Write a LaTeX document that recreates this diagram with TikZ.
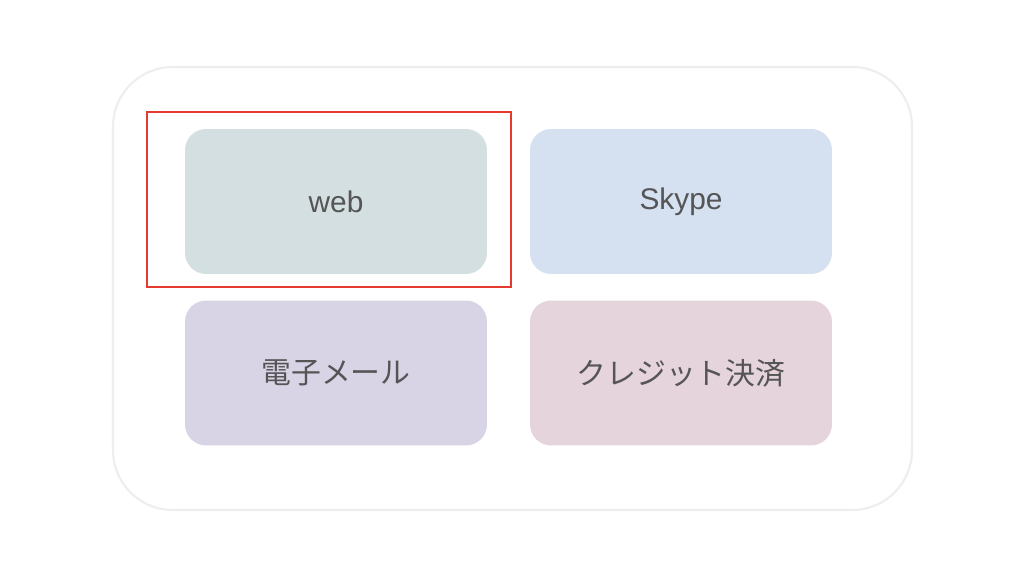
\documentclass[tikz,border=0pt]{standalone}
\usepackage{fontspec}
\setmainfont{Liberation Sans}
\newfontfamily\cjk{Noto Sans CJK JP}
\usepackage{tikz}
\usetikzlibrary{positioning}
\definecolor{frameC}{HTML}{EEEEEE}
\definecolor{webC}{HTML}{D4DFE2}
\definecolor{skypeC}{HTML}{D5E1F0}
\definecolor{mailC}{HTML}{D9D3E6}
\definecolor{cardC}{HTML}{E6D4DC}
\definecolor{textC}{HTML}{555555}
\definecolor{markC}{HTML}{E53A2F}
\tikzset{
  tile/.style={rectangle, rounded corners=12pt, minimum width=6.04cm,
               minimum height=2.9cm, text=textC, font=\fontsize{17}{20}\selectfont},
}

\begin{document}
\begin{tikzpicture}[x=0.02cm, y=-0.02cm]

  %% Canvas
  \useasboundingbox[fill=white] (0,0) rectangle (1024,570);

  %% Outer frame
  \draw[frameC, line width=1.2pt, rounded corners=34pt]
    (113,67) rectangle (912,510);

  %% Tiles
  \node[tile, fill=webC]   (web)   at (336,201.5) {web};
  \node[tile, fill=skypeC] (skype) at (681,201.5) {Skype};
  \node[tile, fill=mailC]  (mail)  at (336,373)   {\cjk 電子メール};
  \node[tile, fill=cardC]  (card)  at (681,373)   {\cjk クレジット決済};

  %% Highlight
  \draw[markC, line width=1.3pt] (147,112) rectangle (511,287);

\end{tikzpicture}
\end{document}
